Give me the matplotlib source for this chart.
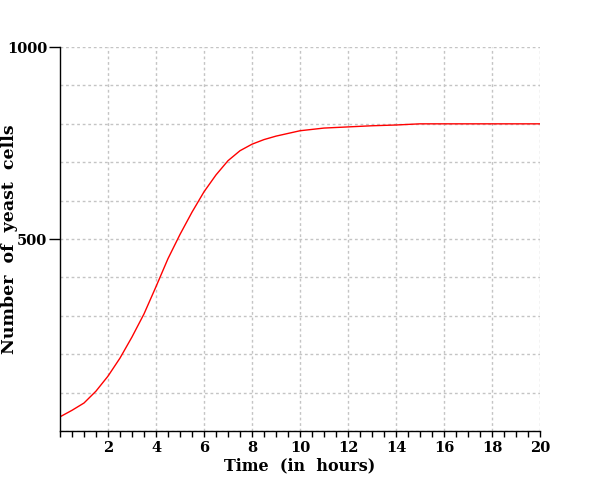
import matplotlib
matplotlib.use("Agg")
import matplotlib.pyplot as plt
from matplotlib.ticker import MultipleLocator, FixedLocator

hours = [0, 0.5, 1, 1.5, 2, 2.5, 3, 3.5, 4, 4.5, 5, 5.5, 6, 6.5, 7, 7.5, 8, 8.5, 9, 10, 11, 12, 13, 14, 15, 16, 18, 20]
cells = [37, 54, 73, 104, 143, 190, 245, 305, 376, 449, 512, 570, 623, 667, 704, 730, 747, 759, 768, 782, 789, 792, 795, 797, 800, 800, 800, 800]
x_ticks = [2, 4, 6, 8, 10, 12, 14, 16, 18, 20]
y_ticks = [500, 1000]

fig = plt.figure(figsize=(6, 4.8), dpi=100)
ax = fig.add_axes([0.1, 0.102, 0.8, 0.8])

ax.plot(hours, cells, color="red", linewidth=1)

ax.set_xlim(0, 20)
ax.set_ylim(0, 1000)

ax.spines["top"].set_visible(False)
ax.spines["right"].set_visible(False)
for s in ("left", "bottom"):
    ax.spines[s].set_linewidth(1)

ax.xaxis.set_major_locator(FixedLocator(x_ticks))
ax.xaxis.set_minor_locator(MultipleLocator(0.5))
ax.yaxis.set_major_locator(FixedLocator(y_ticks))
ax.yaxis.set_minor_locator(MultipleLocator(100))

font = dict(family="DejaVu Serif", weight="bold", size=10.5)
ax.set_xticklabels([str(v) for v in x_ticks], **font)
ax.set_yticklabels([str(v) for v in y_ticks], **font)

ax.tick_params(axis="x", which="both", direction="out", length=4, width=1, pad=3)
ax.tick_params(axis="y", which="major", direction="out", length=8, width=1, pad=1)
ax.tick_params(axis="y", which="minor", length=0)

grid_kw = dict(color="#c4c4c4", linestyle=(0, (2, 2)), linewidth=1)
ax.grid(True, axis="x", which="major", **grid_kw)
ax.grid(True, axis="y", which="both", **grid_kw)
ax.set_axisbelow(True)

ax.set_xlabel("Time  (in  hours)", labelpad=2, family="DejaVu Serif", weight="bold", size=11.5)
ax.set_ylabel("Number  of  yeast  cells", family="DejaVu Serif", weight="bold", size=12.5)
ax.yaxis.set_label_coords(-0.087, 0.5)

fig.savefig("out.png", dpi=100)
